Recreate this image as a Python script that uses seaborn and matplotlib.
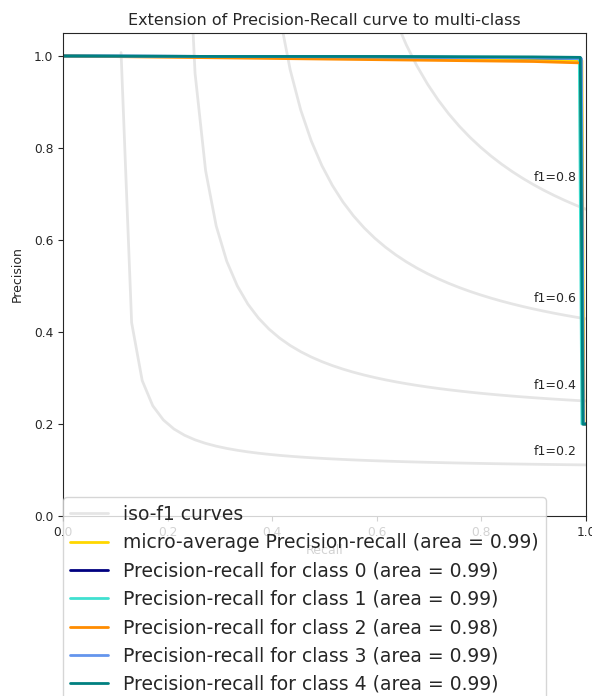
import numpy as np
import pandas as pd
import matplotlib
matplotlib.use("Agg")
import matplotlib.pyplot as plt
import seaborn as sns
from matplotlib.lines import Line2D

sns.set_style("ticks")
plt.rcParams['font.family'] = ['DejaVu Sans']

# ---- data ----
f_scores = [0.2, 0.4, 0.6, 0.8]

micro_recall = [0.0, 0.30, 0.60, 0.90, 0.992, 0.996, 1.0]
micro_precision = [1.0, 0.998, 0.996, 0.993, 0.990, 0.20, 0.20]
micro_area = 0.99

class_names = ["0", "1", "2", "3", "4"]
class_area = [0.99, 0.99, 0.98, 0.99, 0.99]
class_recall = [
    [0.0, 0.30, 0.60, 0.90, 0.990, 0.994, 1.0],
    [0.0, 0.30, 0.60, 0.90, 0.987, 0.992, 1.0],
    [0.0, 0.30, 0.60, 0.90, 0.990, 0.995, 1.0],
    [0.0, 0.30, 0.60, 0.90, 0.991, 0.995, 1.0],
    [0.0, 0.30, 0.60, 0.90, 0.989, 0.994, 1.0],
]
class_precision = [
    [1.0, 0.999, 0.998, 0.996, 0.995, 0.20, 0.20],
    [1.0, 0.999, 0.998, 0.997, 0.997, 0.20, 0.20],
    [1.0, 0.996, 0.992, 0.988, 0.985, 0.20, 0.20],
    [1.0, 0.999, 0.998, 0.996, 0.994, 0.20, 0.20],
    [1.0, 0.999, 0.999, 0.998, 0.997, 0.20, 0.20],
]
colors = ["navy", "turquoise", "darkorange", "cornflowerblue", "teal"]

fig = plt.figure(figsize=(5.92, 6.96), dpi=100)
ax = fig.add_axes([0.1064, 0.2586, 0.8836, 0.694])

handles, labels = [], []
for k, f in enumerate(f_scores):
    x = np.linspace(0.01, 1)
    y = f * x / (2 * x - f)
    m = y >= 0
    df = pd.DataFrame({"x": x[m], "y": y[m]})
    sns.lineplot(data=df, x="x", y="y", color="gray", alpha=0.2, lw=2,
                 sort=False, estimator=None, ax=ax)
    ax.annotate("f1={0:0.1f}".format(f), xy=(0.9, y[45] + 0.02), fontsize=9)
handles.append(Line2D([], [], color="gray", alpha=0.2, lw=2))
labels.append("iso-f1 curves")

df = pd.DataFrame({"x": micro_recall, "y": micro_precision})
sns.lineplot(data=df, x="x", y="y", color="gold", lw=2, sort=False, estimator=None, ax=ax)
handles.append(Line2D([], [], color="gold", lw=2))
labels.append("micro-average Precision-recall (area = {0:0.2f})".format(micro_area))

for i, c in enumerate(colors):
    df = pd.DataFrame({"x": class_recall[i], "y": class_precision[i]})
    sns.lineplot(data=df, x="x", y="y", color=c, lw=2, sort=False, estimator=None, ax=ax)
    handles.append(Line2D([], [], color=c, lw=2))
    labels.append("Precision-recall for class {0} (area = {1:0.2f})".format(class_names[i], class_area[i]))

ax.set_xlim(0.0, 1.0)
ax.set_ylim(0.0, 1.05)
ax.set_xlabel("Recall", fontsize=9)
ax.set_ylabel("Precision", fontsize=9, labelpad=7)
ax.tick_params(labelsize=8.8)
ax.set_title("Extension of Precision-Recall curve to multi-class", fontsize=11.5)
ax.legend(handles, labels, loc=(0, -0.384), prop=dict(size=13.5))

fig.savefig("out.png", dpi=100)
